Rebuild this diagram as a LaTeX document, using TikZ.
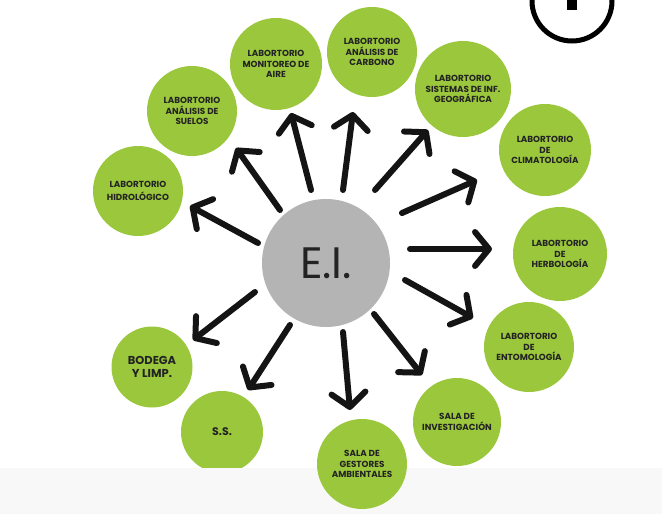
\documentclass[tikz,border=0pt]{standalone}
\usepackage{fontspec}
\setmainfont{Poppins}
\usetikzlibrary{arrows.meta}
\definecolor{lime}{RGB}{155,199,60}
\definecolor{eigray}{RGB}{180,180,180}
\definecolor{ink}{RGB}{35,35,35}
\definecolor{band}{RGB}{248,248,248}
\tikzset{
  lab/.style={circle, fill=lime, minimum size=90pt, inner sep=0pt, align=center, text=ink,
    font=\bfseries\fontsize{8.8}{10.3}\selectfont},
  arr/.style={line width=6pt, line cap=round, draw=black!92,
    -{Straight Barb[length=14pt,width=34pt,round]}},
}
\begin{document}
\begin{tikzpicture}[x=1pt,y=-1pt]
\useasboundingbox (0,0) rectangle (662,514);
\fill[white] (0,0) rectangle (662,514);

% green circles
\node[lab, minimum size=82pt] (ss) at (222,432) {\fontsize{11}{12}\selectfont S.S.};
% very light band at the bottom
\fill[band] (0,468) rectangle (662,514);

\node[lab, font=\bfseries\fontsize{8.8}{13}\selectfont] (hidro) at (138,191) {LABORTORIO\\HIDROLÓGICO};
\node[lab] (suelos) at (192,111) {LABORTORIO\\ANÁLISIS DE\\SUELOS};
\node[lab, minimum size=92pt] (aire) at (276,64) {LABORTORIO\\MONITOREO DE\\AIRE};
\node[lab] (carbono) at (372,52) {LABORTORIO\\ANÁLISIS DE\\CARBONO};
\node[lab, minimum size=96pt] (sig) at (463,89) {LABORTORIO\\SISTEMAS DE INF.\\GEOGRÁFICA};
\node[lab, minimum size=92pt] (clima) at (545,150) {LABORTORIO\\DE\\CLIMATOLOGÍA};
\node[lab, minimum size=94pt] (herbo) at (560,254) {LABORTORIO\\DE\\HERBOLOGÍA};
\node[lab] (ento) at (529,347) {LABORTORIO\\DE\\ENTOMOLOGÍA};
\node[lab, minimum size=88pt] (inv) at (457,422) {SALA DE\\INVESTIGACIÓN};
\node[lab] (gest) at (362,464) {SALA DE\\GESTORES\\AMBIENTALES};
\node[lab, minimum size=81pt, font=\bfseries\fontsize{11.5}{13}\selectfont] (bodega) at (152,367) {BODEGA\\Y LIMP.};

% centre
\node[circle, fill=eigray, minimum size=128pt, inner sep=0pt, text=ink,
  font=\fontsize{44}{44}\selectfont] (ei) at (326,263) {E.I.};

% arrow end points
\coordinate (s1) at (258,243);  \coordinate (t1) at (190,206);
\coordinate (s2) at (280,210);  \coordinate (t2) at (236,148);
\coordinate (s3) at (311,190);  \coordinate (t3) at (291,113);
\coordinate (s4) at (343,190);  \coordinate (t4) at (353,112);
\coordinate (s5) at (375,190);  \coordinate (t5) at (428,130);
\coordinate (s6) at (402,213);  \coordinate (t6) at (477,180);
\coordinate (s7) at (410,249);  \coordinate (t7) at (492,249);
\coordinate (s8) at (405,280);  \coordinate (t8) at (473,318);
\coordinate (s9) at (374,314);  \coordinate (t9) at (422,375);
\coordinate (s10) at (343,332); \coordinate (t10) at (350,410);
\coordinate (s11) at (290,325); \coordinate (t11) at (248,390);
\coordinate (s12) at (255,292); \coordinate (t12) at (193,340);

\foreach \i in {1,...,12}{\draw[arr] (s\i) -- (t\i);}

% partial numbered circle, top right
\draw[line width=5pt] (572,1) circle (40pt);
\fill (567,-2) rectangle (577,10);
\end{tikzpicture}
\end{document}
